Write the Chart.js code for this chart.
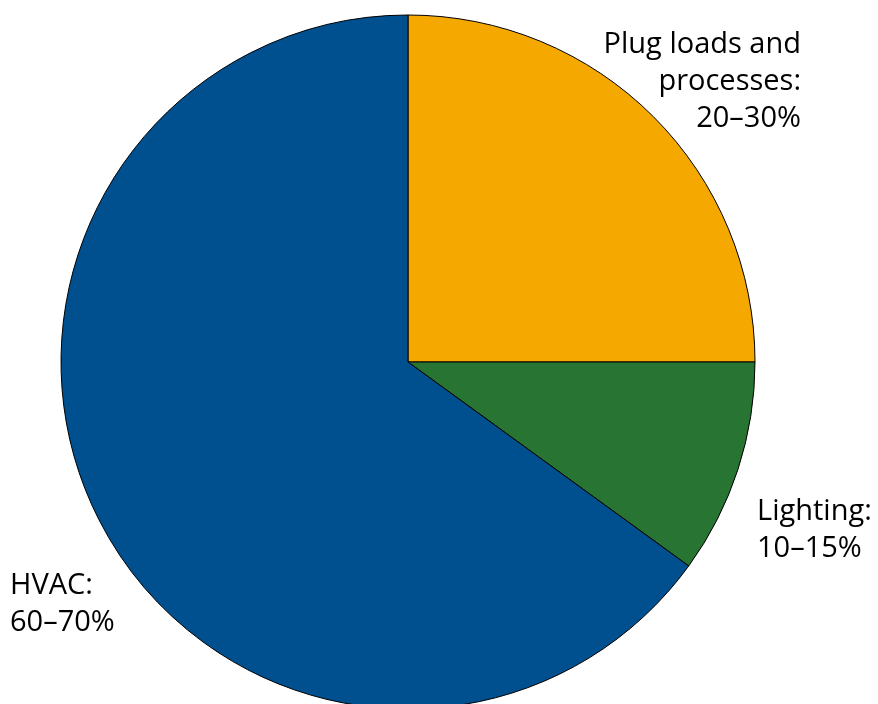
<!DOCTYPE html>
<html>
<head>
<meta charset="utf-8">
<script src="https://cdn.jsdelivr.net/npm/chart.js@4.4.1/dist/chart.umd.min.js"></script>
<style>
    html, body { margin: 0; padding: 0; background: #fff; overflow: hidden; }
    #wrap { width: 878px; height: 704px; position: relative; }
</style>
</head>
<body>
<div id="wrap"><canvas id="energyPie"></canvas></div>
<script>
// Building energy end uses
const categories = ['Plug loads and processes', 'Lighting', 'HVAC'];
const shares = [25, 10, 65];
const rangeLabels = ['20–30%', '10–15%', '60–70%'];
const sliceColors = ['#f5a800', '#287432', '#004f8e'];

// text blocks drawn next to each slice
const labelLines = [
    ['Plug loads and', 'processes:', rangeLabels[0]],
    ['Lighting:', rangeLabels[1]],
    ['HVAC:', rangeLabels[2]]
];
const labelSpots = [
    { x: 801, y: 53, align: 'right' },
    { x: 757, y: 520, align: 'left' },
    { x: 10, y: 594, align: 'left' }
];

const sliceLabels = {
    id: 'sliceLabels',
    afterDraw(chart) {
        const ctx = chart.ctx;
        ctx.save();
        ctx.fillStyle = '#000';
        ctx.font = '29px "Open Sans", sans-serif';
        ctx.textBaseline = 'alphabetic';
        labelLines.forEach((lines, i) => {
            const spot = labelSpots[i];
            ctx.textAlign = spot.align;
            lines.forEach((line, j) => ctx.fillText(line, spot.x, spot.y + j * 37));
        });
        ctx.restore();
    }
};

function createEnergyPie() {
    const ctx = document.getElementById('energyPie').getContext('2d');
    new Chart(ctx, {
        type: 'pie',
        data: {
            labels: categories,
            datasets: [{
                data: shares,
                backgroundColor: sliceColors,
                borderColor: '#000',
                borderWidth: 1,
                clip: false
            }]
        },
        options: {
            responsive: true,
            maintainAspectRatio: false,
            animation: false,
            radius: 347,
            layout: { padding: { top: 20, right: 62, bottom: 0, left: 0 } },
            plugins: {
                legend: { display: false },
                tooltip: { enabled: false }
            }
        },
        plugins: [sliceLabels]
    });
}

createEnergyPie();
</script>
</body>
</html>
